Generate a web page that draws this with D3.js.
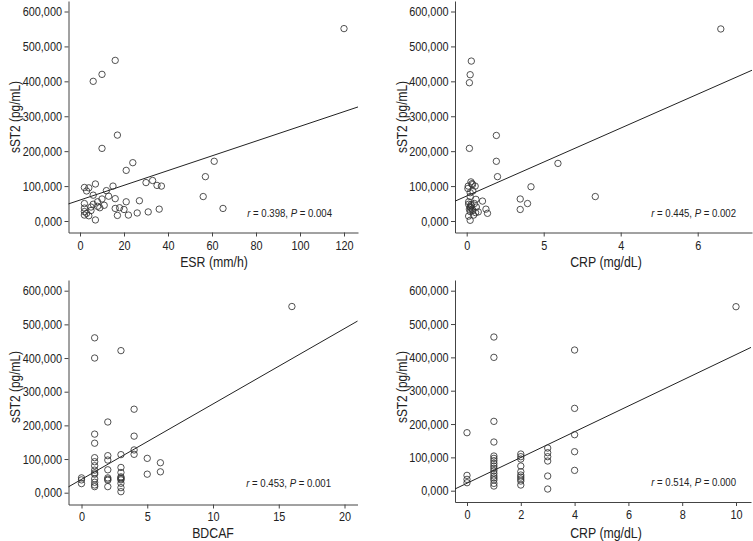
<!DOCTYPE html>
<html><head><meta charset="utf-8">
<script src="https://cdn.jsdelivr.net/npm/d3@7/dist/d3.min.js"></script>
<style>
body{margin:0;background:#fff;}
svg{display:block;}
text{font-family:"Liberation Sans",Arial,sans-serif;fill:#222;}
</style></head>
<body><svg id="chart" width="753" height="541"></svg>
<script>
// ---------- DATA ----------
const yTickValues = [0, 100000, 200000, 300000, 400000, 500000, 600000];
const yTickLabels = ["0,000", "100,000", "200,000", "300,000", "400,000", "500,000", "600,000"];
const yTitle = "sST2 (pg/mL)";

// Panel A: ESR
const esrTicks = [0, 20, 40, 60, 80, 100, 120];
const esrTickLabels = ["0", "20", "40", "60", "80", "100", "120"];
const esrX = [120,16,10,6,17,10,24,21,61,57,56,65,30,33,35,37,15,2,4,3,7,6,12,13,10,16,2,6,8,5,8,9,11,21,27,16,18,20,2,2,3,2,4,5,17,22,26,31,36,7];
const esrY = [551000,460000,420000,400000,246000,208000,167000,145000,171000,127000,70000,36000,110000,116000,102000,100000,100000,96000,95000,86000,106000,74000,87000,71000,63000,64000,50000,48000,55000,40000,42000,38000,45000,55000,58000,36000,38000,33000,37000,27000,22000,17000,15000,30000,16000,17000,23000,26000,34000,3000];
const esrFit = [60000, 2110];   // intercept, slope
const esrStats = ["0.398", "0.004"];

// Panel B: CRP
const crpTicks = [0, 2, 4, 6];
const crpTickLabels = ["0", "5", "4", "6"];
const crpX = [6.6,0.12,0.09,0.07,0.07,0.77,0.77,0.8,2.37,1.67,3.34,1.39,1.58,1.39,0.41,0.5,0.54,0.11,0.14,0.04,0.03,0.22,0.16,0.09,0.09,0.24,0.05,0.2,0.11,0.09,0.07,0.14,0.09,0.23,0.18,0.05,0.09,0.16,0.05,0.25,0.3,0.12,0.1,0.15];
const crpY = [550000,458000,419000,396000,208000,245000,171000,127000,165000,98000,70000,63000,50000,33000,57000,34000,22000,112000,107000,100000,93000,100000,86000,81000,70000,62000,55000,50000,47000,41000,34000,34000,27000,24000,17000,14000,2000,30000,48000,40000,26000,44000,38000,104000];
const crpFit = [71600, 48600];
const crpStats = ["0.445", "0.002"];

// Panel C: BDCAF
const bdcafTicks = [0, 5, 10, 15, 20];
const bdcafTickLabels = ["0", "5", "10", "15", "20"];
const bdcafX = [16,1,1,1,1,1,1,1,1,1,1,1,1,1,1,0,0,0,2,2,2,2,2,2,2,2,3,3,3,3,3,3,3,3,3,3,3,4,4,4,4,5,5,6,6];
const bdcafY = [553000,460000,400000,174000,147000,104000,92000,80000,67000,59000,55000,41000,31000,23000,18000,44000,38000,27000,210000,110000,97000,68000,44000,40000,37000,18000,422000,113000,75000,60000,47000,44000,41000,38000,28000,15000,3000,248000,168000,127000,114000,102000,55000,89000,62000];
const bdcafFit = [39600, 22400];
const bdcafStats = ["0.453", "0.001"];

// Panel D: CRP (grade)
const crp2Ticks = [0, 2, 4, 6, 8, 10];
const crp2TickLabels = ["0", "2", "4", "6", "8", "10"];
const crp2X = [10,0,0,0,0,1,1,1,1,1,1,1,1,1,1,1,1,1,1,1,1,1,2,2,2,2,2,2,2,2,2,2,3,3,3,3,3,3,4,4,4,4,4];
const crp2Y = [552000,174000,46000,34000,24000,461000,400000,208000,146000,104000,97000,90000,82000,74000,67000,60000,52000,44000,38000,32000,22000,14000,110000,102000,95000,74000,57000,47000,41000,35000,29000,17000,128000,114000,102000,89000,44000,5000,422000,247000,168000,117000,61000];
const crp2Fit = [22400, 38600];
const crp2Stats = ["0.514", "0.000"];

// ---------- LAYOUT ----------
const svg = d3.select("#chart");
const fmtY = d => yTickLabels[yTickValues.indexOf(d)];
const SX = 0.85; // horizontal condensing of the text

function panel(cfg) {
  const x = d3.scaleLinear().domain(cfg.xCal).range(cfg.xCalPx);
  x.domain([x.invert(cfg.left), x.invert(cfg.right)]).range([cfg.left, cfg.right]);
  const y = d3.scaleLinear().domain([0, 600000]).range(cfg.yCalPx);
  y.domain([y.invert(cfg.bottom), y.invert(cfg.top)]).range([cfg.bottom, cfg.top]);

  const g = svg.append("g");

  const xa = g.append("g").attr("transform", `translate(0,${cfg.bottom})`)
    .call(d3.axisBottom(x).tickValues(cfg.ticks).tickSize(4).tickSizeOuter(0)
      .tickFormat((d, i) => cfg.tickLabels[i]));
  const ya = g.append("g").attr("transform", `translate(${cfg.left},0)`)
    .call(d3.axisLeft(y).tickValues(yTickValues).tickSize(4).tickSizeOuter(0).tickFormat(fmtY));
  [xa, ya].forEach(a => {
    a.selectAll("path,line").attr("stroke", "#444").attr("stroke-width", 1);
    a.selectAll("text").attr("font-size", 12.8).attr("fill", "#222")
      .attr("font-family", null).attr("transform", `scale(${SX},1)`);
  });
  xa.selectAll("text").attr("dy", "0.9em").attr("y", cfg.tickGap);
  ya.selectAll("text").attr("x", -6.5 / SX);

  // regression line
  const [x0, x1] = x.domain();
  const f = v => cfg.fit[0] + cfg.fit[1] * v;
  g.append("line")
    .attr("x1", x(x0)).attr("y1", y(f(x0)))
    .attr("x2", x(x1)).attr("y2", y(f(x1)))
    .attr("stroke", "#222").attr("stroke-width", 1);

  // points
  g.selectAll("circle.pt").data(cfg.xs.map((v, i) => [v, cfg.ys[i]])).join("circle")
    .attr("class", "pt")
    .attr("cx", d => x(d[0])).attr("cy", d => y(d[1])).attr("r", 3.2)
    .attr("fill", "none").attr("stroke", "#333").attr("stroke-width", 0.85);

  // titles
  g.append("text").attr("transform", `translate(${cfg.xTitlePos[0]},${cfg.xTitlePos[1]}) scale(${SX},1)`)
    .attr("text-anchor", "middle").attr("font-size", 14.5).text(cfg.xTitle);
  g.append("text").attr("transform", `translate(${cfg.yTitlePos[0]},${cfg.yTitlePos[1]}) rotate(-90) scale(${SX},1)`)
    .attr("text-anchor", "middle").attr("font-size", 14).text(yTitle);

  // stats annotation
  const t = g.append("text").attr("transform", `translate(${cfg.statPos[0]},${cfg.statPos[1]}) scale(${SX},1)`)
    .attr("text-anchor", "end").attr("font-size", 11.3);
  t.append("tspan").attr("font-style", "italic").text("r");
  t.append("tspan").text(` = ${cfg.stats[0]}, `);
  t.append("tspan").attr("font-style", "italic").text("P");
  t.append("tspan").text(` = ${cfg.stats[1]}`);
}

panel({xs: esrX, ys: esrY, ticks: esrTicks, tickLabels: esrTickLabels, fit: esrFit, stats: esrStats,
  xCal: [0, 120], xCalPx: [80, 344], yCalPx: [221, 11.5],
  left: 68.5, right: 358, top: 1, bottom: 232.5, tickGap: 6,
  xTitle: "ESR (mm/h)", xTitlePos: [214, 267], yTitlePos: [20, 117], statPos: [332, 217]});

panel({xs: crpX, ys: crpY, ticks: crpTicks, tickLabels: crpTickLabels, fit: crpFit, stats: crpStats,
  xCal: [0, 6], xCalPx: [466.7, 697.7], yCalPx: [221, 11.5],
  left: 455, right: 752, top: 1, bottom: 232.5, tickGap: 6,
  xTitle: "CRP (mg/dL)", xTitlePos: [606, 267], yTitlePos: [407, 117], statPos: [736, 217]});

panel({xs: bdcafX, ys: bdcafY, ticks: bdcafTicks, tickLabels: bdcafTickLabels, fit: bdcafFit, stats: bdcafStats,
  xCal: [0, 20], xCalPx: [81.5, 344.5], yCalPx: [492.7, 290.7],
  left: 68.5, right: 357.5, top: 280, bottom: 504.5, tickGap: 4.5,
  xTitle: "BDCAF", xTitlePos: [213, 538], yTitlePos: [20, 387], statPos: [331, 487]});

panel({xs: crp2X, ys: crp2Y, ticks: crp2Ticks, tickLabels: crp2TickLabels, fit: crp2Fit, stats: crp2Stats,
  xCal: [0, 10], xCalPx: [467, 736], yCalPx: [490.7, 290.7],
  left: 455, right: 751, top: 280, bottom: 502, tickGap: 5,
  xTitle: "CRP (mg/dL)", xTitlePos: [606, 538], yTitlePos: [407, 387], statPos: [736, 486]});
</script>
</body></html>
